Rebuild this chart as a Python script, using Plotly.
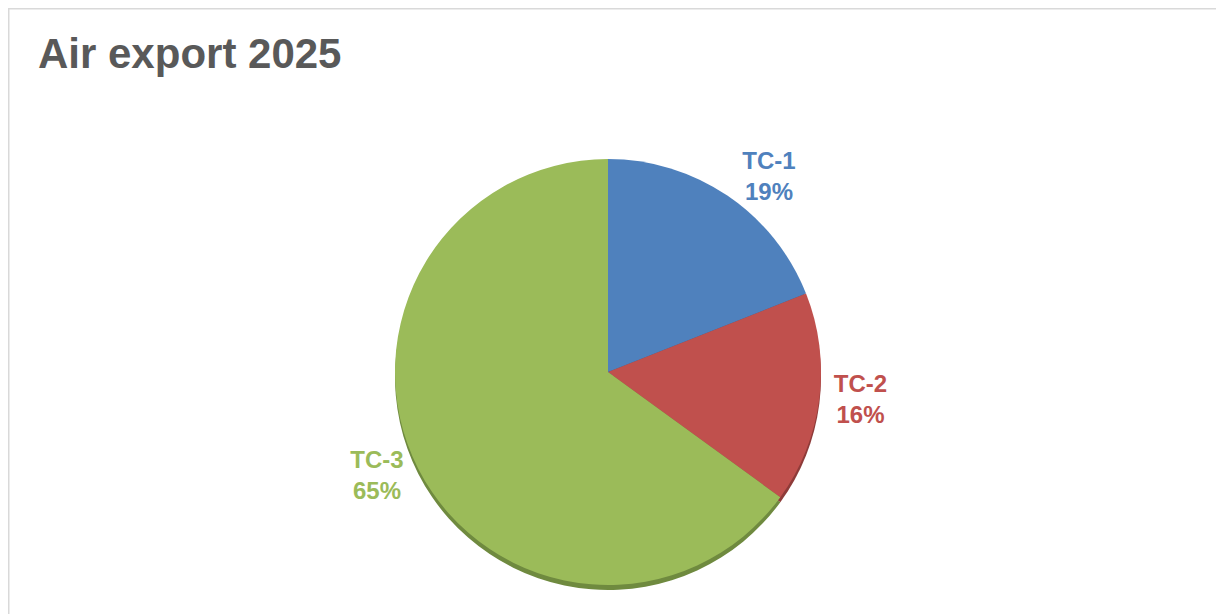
import plotly.graph_objects as go

# chart data
categories = ["TC-1", "TC-2", "TC-3"]
shares = [19, 16, 65]
colors = ["#4F81BD", "#C0504D", "#9BBB59"]
shade_colors = ["#3A6190", "#8E3B39", "#6F8A3F"]

W, H = 1224, 614
cx, cy, r = 600, 364, 213  # pie centre / radius in pixels (plotly nudges it a bit)


def dom(cx, cy, r):
    return dict(x=[(cx - r) / W, (cx + r) / W],
                y=[(H - cy - r) / H, (H - cy + r) / H])


fig = go.Figure()

# darker copy underneath, gives the thin 3d edge at the bottom
fig.add_trace(go.Pie(
    labels=categories, values=shares, sort=False, direction="clockwise",
    marker=dict(colors=shade_colors, line=dict(width=0)),
    textinfo="none", hoverinfo="skip", showlegend=False,
    domain=dom(cx, cy + 5, r),
))

fig.add_trace(go.Pie(
    labels=categories, values=shares, sort=False, direction="clockwise",
    marker=dict(colors=colors, line=dict(width=0)),
    texttemplate="<b>%{label}<br>%{percent:.0%}</b>",
    textposition="outside",
    outsidetextfont=dict(family="Liberation Sans, Arial", size=24, color=colors),
    showlegend=False,
    domain=dom(cx, cy, r),
))

fig.update_layout(
    width=W, height=H,
    margin=dict(l=0, r=0, t=0, b=0),
    paper_bgcolor="white",
    title=dict(text="<b>Air export 2025</b>", x=30 / W, xanchor="left",
               y=1 - 45 / H, yanchor="middle",
               font=dict(family="Liberation Sans, Arial", size=42, color="#595959")),
    shapes=[
        dict(type="line", xref="paper", yref="paper", x0=0, x1=1, y0=1, y1=1,
             line=dict(color="#D9D9D9", width=3)),
        dict(type="line", xref="paper", yref="paper", x0=0, x1=0, y0=0, y1=1,
             line=dict(color="#D9D9D9", width=3)),
        dict(type="line", xref="paper", yref="paper", x0=1221 / W, x1=1221 / W, y0=0, y1=1,
             line=dict(color="#D9D9D9", width=2)),
    ],
)

fig.write_html("out.html")
